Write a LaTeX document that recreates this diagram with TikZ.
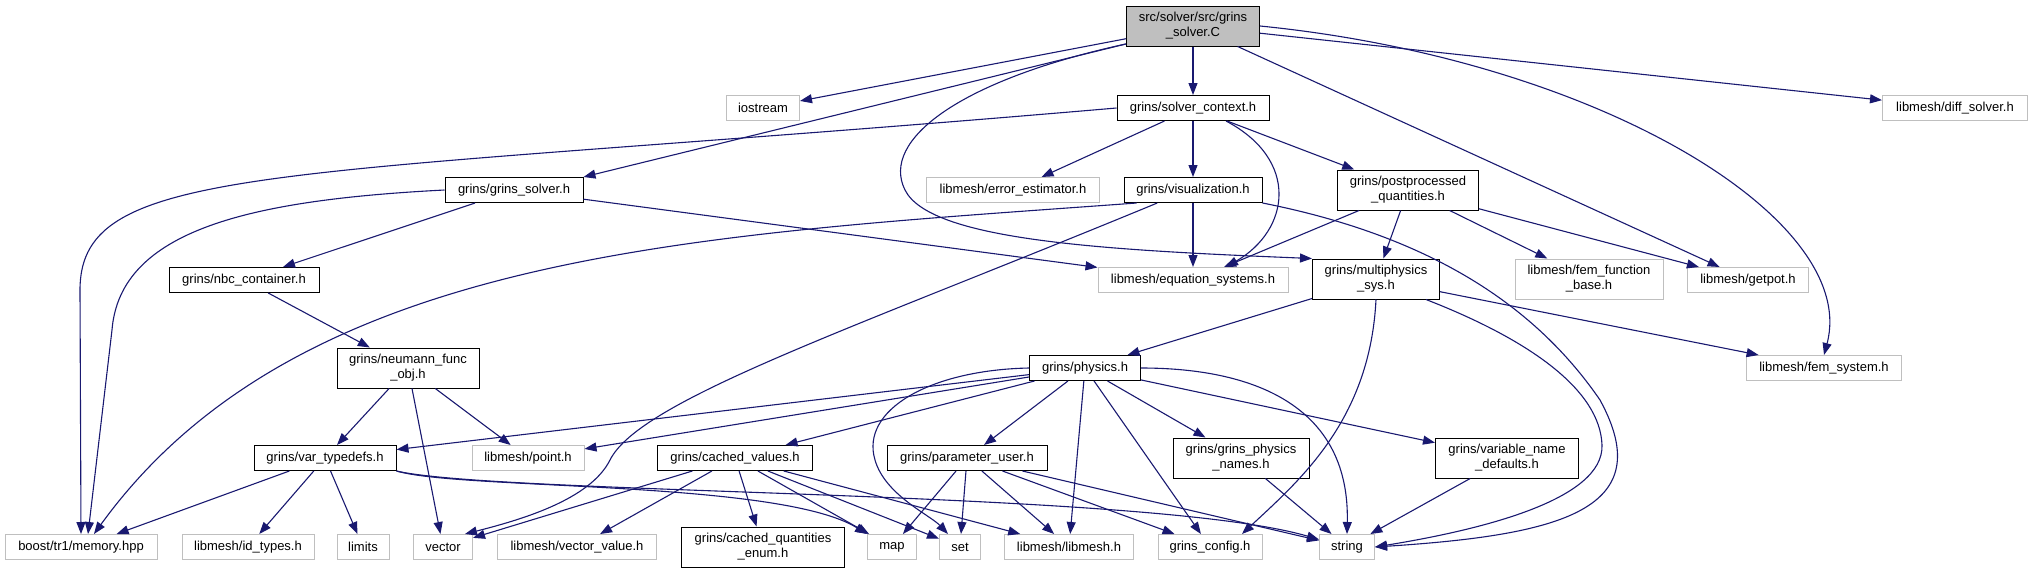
\documentclass[tikz,border=0pt]{standalone}
\usepackage{fontspec}
\setmainfont{Liberation Sans}
\usepackage{xcolor}
\usetikzlibrary{arrows.meta}
\definecolor{depblue}{HTML}{191970}
\definecolor{sysgray}{HTML}{BFBFBF}

\begin{document}
\begin{tikzpicture}[x=1pt, y=-1pt,
        every node/.style={font=\fontsize{13}{15}\selectfont, inner sep=0pt,
                           minimum height=25pt, align=center},
        grinsbox/.style={draw=black, line width=1pt},
        sysbox/.style={draw=sysgray, line width=1pt},
        tall/.style={minimum height=40pt},
        dep/.style={draw=depblue, line width=1.1pt, -{Triangle[length=12pt,width=9pt]}}]
        \useasboundingbox (0,0) rectangle (2032,573);
        % Nodes
        \node[grinsbox, tall, fill=sysgray, minimum width=133] (root) at (1193,26) {src/solver/src/grins\\\_solver.C};
        \node[sysbox, minimum width=73] (iostream) at (763,108) {iostream};
        \node[grinsbox, minimum width=152] (ctx) at (1193,108) {grins/solver\_context.h};
        \node[sysbox, minimum width=145] (diffsolver) at (1955,108) {libmesh/diff\_solver.h};
        \node[grinsbox, minimum width=138] (gsolver) at (514,190) {grins/grins\_solver.h};
        \node[sysbox, minimum width=173] (errest) at (1013,190) {libmesh/error\_estimator.h};
        \node[grinsbox, minimum width=138] (vis) at (1193,190) {grins/visualization.h};
        \node[grinsbox, tall, minimum width=141] (post) at (1408,190) {grins/postprocessed\\\_quantities.h};
        \node[grinsbox, minimum width=150] (nbc) at (244,280) {grins/nbc\_container.h};
        \node[sysbox, minimum width=190] (eqsys) at (1193,280) {libmesh/equation\_systems.h};
        \node[grinsbox, tall, minimum width=127] (multi) at (1376,279) {grins/multiphysics\\\_sys.h};
        \node[sysbox, tall, minimum width=148] (femfunc) at (1589,279) {libmesh/fem\_function\\\_base.h};
        \node[sysbox, minimum width=121] (getpot) at (1748,280) {libmesh/getpot.h};
        \node[grinsbox, tall, minimum width=142] (neumann) at (408,368) {grins/neumann\_func\\\_obj.h};
        \node[grinsbox, minimum width=111] (physics) at (1085,368) {grins/physics.h};
        \node[sysbox, minimum width=155] (femsys) at (1824,368) {libmesh/fem\_system.h};
        \node[grinsbox, minimum width=142] (vartypes) at (325,458) {grins/var\_typedefs.h};
        \node[sysbox, minimum width=112] (point) at (528,458) {libmesh/point.h};
        \node[grinsbox, minimum width=155] (cached) at (735,458) {grins/cached\_values.h};
        \node[grinsbox, minimum width=160] (paramuser) at (967,458) {grins/parameter\_user.h};
        \node[grinsbox, tall, minimum width=136] (physnames) at (1241,458) {grins/grins\_physics\\\_names.h};
        \node[grinsbox, tall, minimum width=143] (varnames) at (1507,458) {grins/variable\_name\\\_defaults.h};
        \node[sysbox, minimum width=152] (memory) at (81,547) {boost/tr1/memory.hpp};
        \node[sysbox, minimum width=132] (idtypes) at (248,547) {libmesh/id\_types.h};
        \node[sysbox, minimum width=52] (limits) at (363,547) {limits};
        \node[sysbox, minimum width=59] (vec) at (443,547) {vector};
        \node[sysbox, minimum width=159] (vecval) at (577,547) {libmesh/vector\_value.h};
        \node[grinsbox, tall, minimum width=163] (qenum) at (763,547) {grins/cached\_quantities\\\_enum.h};
        \node[sysbox, minimum width=49] (stlmap) at (892,547) {map};
        \node[sysbox, minimum width=41] (stlset) at (960,547) {set};
        \node[sysbox, minimum width=129] (libmeshh) at (1069,547) {libmesh/libmesh.h};
        \node[sysbox, minimum width=104] (config) at (1210,547) {grins\_config.h};
        \node[sysbox, minimum width=55] (str) at (1347,547) {string};
        % Edges from the source file
        \draw[dep] (root) -- (iostream);
        \draw[dep] (root) -- (ctx);
        \draw[dep] (root.195) -- (gsolver.north east);
        \draw[dep] (root.195) .. controls (960,80) and (880,140) .. (905,190) .. controls (930,240) and (1100,250) .. (multi.north west);
        \draw[dep] (root) -- (getpot);
        \draw[dep] (root.east) .. controls (1600,60) and (1860,220) .. (femsys.north);
        \draw[dep] (root) -- (diffsolver);
        % solver_context.h
        \draw[dep] (ctx.west) .. controls (280,180) and (80,160) .. (80,290) -- (memory.north);
        \draw[dep] (ctx) -- (errest);
        \draw[dep] (ctx) -- (vis);
        \draw[dep] ([xshift=33pt]ctx.south) .. controls (1300,160) and (1290,230) .. ([xshift=33pt]eqsys.north);
        \draw[dep] (ctx) -- (post);
        % visualization.h
        \draw[dep] (vis) -- (eqsys);
        \draw[dep] (vis.193) .. controls (700,235) and (300,250) .. (memory.45);
        \draw[dep] (vis.200) .. controls (850,330) and (640,400) .. (610,460) .. controls (590,500) and (520,520) .. ([xshift=-8pt]vec.north east);
        \draw[dep] (vis.south east) .. controls (1450,240) and (1545,320) .. (1600,400) .. controls (1660,510) and (1560,535) .. (str.east);
        % postprocessed_quantities.h
        \draw[dep] (post) -- (eqsys);
        \draw[dep] (post) -- (multi);
        \draw[dep] (post) -- (femfunc);
        \draw[dep] (post) -- (getpot);
        % grins_solver.h
        \draw[dep] (gsolver) -- (nbc);
        \draw[dep] (gsolver.west) .. controls (250,200) and (120,230) .. (112,330) -- ([xshift=7pt]memory.north);
        \draw[dep] (gsolver) -- (eqsys);
        % nbc_container.h and neumann_func_obj.h
        \draw[dep] (nbc) -- (neumann);
        \draw[dep] (neumann) -- (vartypes);
        \draw[dep] (neumann) -- (vec);
        \draw[dep] (neumann) -- (point);
        % multiphysics_sys.h
        \draw[dep] (multi) -- (physics);
        \draw[dep] (multi) -- (femsys);
        \draw[dep] ([xshift=50pt]multi.south) .. controls (1530,340) and (1600,390) .. (1602,445) .. controls (1604,500) and (1480,530) .. (str.east);
        \draw[dep] (multi.south) .. controls (1370,420) and (1300,480) .. ([xshift=32pt]config.north);
        % physics.h
        \draw[dep] (physics) -- (vartypes);
        \draw[dep] (physics) -- (point);
        \draw[dep] (physics) -- (cached);
        \draw[dep] (physics) -- (paramuser);
        \draw[dep] (physics.west) .. controls (930,370) and (860,410) .. (875,460) .. controls (885,495) and (930,515) .. ([xshift=-12pt]stlset.north);
        \draw[dep] (physics) -- (libmeshh);
        \draw[dep] (physics) -- (config);
        \draw[dep] (physics) -- (physnames);
        \draw[dep] (physics) -- (varnames);
        \draw[dep] (physics.east) .. controls (1260,368) and (1350,410) .. (str.north);
        % cached_values.h
        \draw[dep] (cached) -- (vec);
        \draw[dep] (cached) -- (vecval);
        \draw[dep] (cached) -- (qenum);
        \draw[dep] (cached) -- (stlmap);
        \draw[dep] (cached) -- (stlset);
        \draw[dep] (cached) -- (libmeshh);
        % parameter_user.h
        \draw[dep] (paramuser) -- (stlmap);
        \draw[dep] (paramuser) -- (stlset);
        \draw[dep] (paramuser) -- (libmeshh);
        \draw[dep] (paramuser) -- (config);
        \draw[dep] (paramuser) -- (str);
        \draw[dep] (physnames) -- (str);
        \draw[dep] (varnames) -- (str);
        % var_typedefs.h
        \draw[dep] (vartypes) -- (memory);
        \draw[dep] (vartypes) -- (idtypes);
        \draw[dep] (vartypes) -- (limits);
        \draw[dep] (vartypes.south east) .. controls (460,490) and (780,480) .. (stlmap.north west);
        \draw[dep] (vartypes.south east) .. controls (500,495) and (1150,490) .. (str.165);
    \end{tikzpicture}
\end{document}
